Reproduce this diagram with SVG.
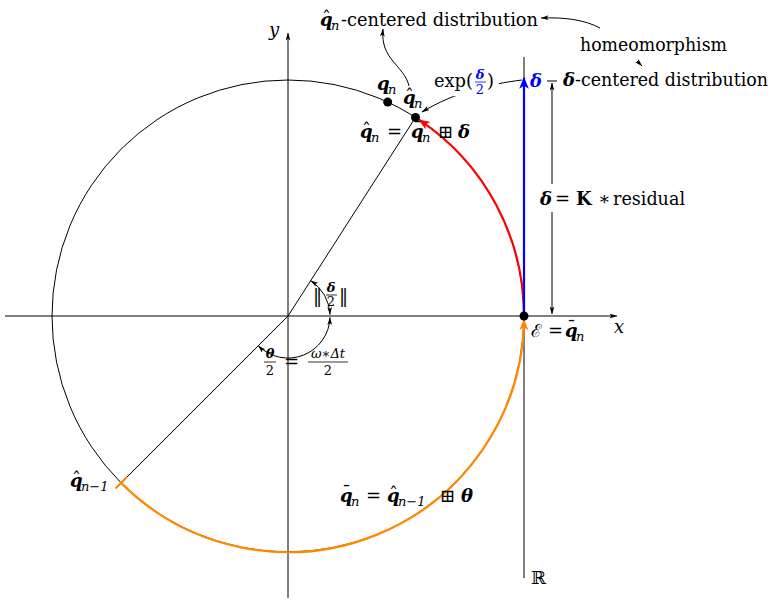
<svg xmlns="http://www.w3.org/2000/svg" width="781" height="605" viewBox="0 0 781 605">
<style>
.t{font-family:"DejaVu Serif","Liberation Serif",serif;font-size:18px;fill:#000}
.m{font-style:italic;font-weight:bold}
.i{font-style:italic}
.s{font-size:13px}
.ln{fill:none;stroke:#000;stroke-width:1}
.bl{fill:#00f}
</style>
<defs>
<marker id="ab" viewBox="0 0 10 6" refX="9.5" refY="3" markerWidth="8" markerHeight="5" orient="auto-start-reverse" markerUnits="userSpaceOnUse"><path d="M0,0 L10,3 L0,6 L2.5,3 z" fill="#000"/></marker>
<marker id="ar" viewBox="0 0 10 8" refX="9" refY="4" markerWidth="12" markerHeight="9" orient="auto" markerUnits="userSpaceOnUse"><path d="M0,0 L10,4 L0,8 L2.5,4 z" fill="#f00"/></marker>
<marker id="ao" viewBox="0 0 10 8" refX="9" refY="4" markerWidth="12" markerHeight="9" orient="auto" markerUnits="userSpaceOnUse"><path d="M0,0 L10,4 L0,8 L2.5,4 z" fill="#f80"/></marker>
<marker id="abl" viewBox="0 0 10 8" refX="9" refY="4" markerWidth="12" markerHeight="11" orient="auto" markerUnits="userSpaceOnUse"><path d="M0,0 L10,4 L0,8 L2.5,4 z" fill="#00f"/></marker>
</defs>
<rect width="781" height="605" fill="#fff"/>

<g id="axes">
<line class="ln" x1="5" y1="316" x2="617" y2="316" marker-end="url(#ab)"/>
<line class="ln" x1="288" y1="598" x2="288" y2="33" marker-end="url(#ab)"/>
<text class="t i" x="614" y="333">x</text>
<text class="t i" x="269" y="36">y</text>
</g>

<g id="circle">
<circle cx="288" cy="316" r="236" class="ln"/>
</g>

<g id="tangent">
<line class="ln" x1="524" y1="57" x2="524" y2="578"/>
<text class="t" x="531" y="584">ℝ</text>
</g>

<g id="connectors">
<line class="ln" x1="288" y1="316" x2="415.5" y2="117.4"/>
<line class="ln" x1="288" y1="316" x2="121.1" y2="482.9"/>
<path d="M121.1,482.9 A236,236 0 0 0 524,320" fill="none" stroke="#f80" stroke-width="2.2" marker-end="url(#ao)"/>
<line x1="115.5" y1="488.5" x2="126.7" y2="477.3" stroke="#f80" stroke-width="2.2"/>
<path d="M524,316 A236,236 0 0 0 419.6,120.1" fill="none" stroke="#f00" stroke-width="2.2" marker-end="url(#ar)"/>
<line x1="524" y1="316" x2="524" y2="78" stroke="#00f" stroke-width="2.2" marker-end="url(#abl)"/>
<path class="ln" d="M310.7,280.7 A42,42 0 0 1 330,314.5" marker-start="url(#ab)" marker-end="url(#ab)"/>
<path class="ln" d="M330,317.5 A42,42 0 0 1 258.3,345.7" marker-start="url(#ab)" marker-end="url(#ab)"/>
<line class="ln" x1="552" y1="83" x2="552" y2="314" marker-start="url(#ab)" marker-end="url(#ab)"/>
<line class="ln" x1="547" y1="81" x2="557" y2="81"/>
<path class="ln" d="M409,86 C404,65 380,60 383,29" marker-end="url(#ab)"/>
<path class="ln" d="M600,28 C585,20 565,17 541,18" marker-end="url(#ab)"/>
<line class="ln" x1="637" y1="61" x2="642" y2="66" marker-end="url(#ab)"/>
<path class="ln" d="M522,80 C490,84 455,92 422,112" marker-end="url(#ab)"/>
</g>

<g id="dots">
<circle cx="524" cy="316" r="4.5"/>
<circle cx="415.5" cy="117.4" r="4.5"/>
<circle cx="387.7" cy="102.1" r="4.5"/>
</g>

<g id="label-qhat-dist">
<text class="t m" x="320" y="26">q</text>
<text class="t" x="322" y="25">ˆ</text>
<text class="t i s" x="331" y="30">n</text>
<text class="t" x="341" y="26" textLength="197" lengthAdjust="spacingAndGlyphs">-centered distribution</text>
</g>

<g id="label-homeo">
<text class="t" x="580" y="51" textLength="147" lengthAdjust="spacingAndGlyphs">homeomorphism</text>
</g>

<g id="label-delta-dist">
<text class="t m" x="563" y="86">δ</text>
<text class="t" x="575" y="86" textLength="193" lengthAdjust="spacingAndGlyphs">-centered distribution</text>
</g>

<g id="label-exp">
<rect x="431" y="64" width="68" height="32" fill="#fff"/>
<text class="t" x="434" y="87" textLength="39" lengthAdjust="spacingAndGlyphs">exp(</text>
<text class="t m s bl" x="480" y="79" text-anchor="middle">δ</text>
<line x1="475" y1="82" x2="486" y2="82" stroke="#00f" stroke-width="0.8"/>
<text class="t s bl" x="480" y="94" text-anchor="middle">2</text>
<text class="t" x="487" y="87">)</text>
</g>

<g id="label-delta-blue">
<text class="t m bl" x="530" y="87">δ</text>
</g>

<g id="label-qn">
<text class="t m" x="377" y="90">q</text>
<text class="t i s" x="388" y="94">n</text>
</g>

<g id="label-qhatn">
<text class="t m" x="403" y="104">q</text>
<text class="t" x="405" y="103">ˆ</text>
<text class="t i s" x="414" y="108">n</text>
</g>

<g id="label-update">
<text class="t m" x="360" y="138">q</text>
<text class="t" x="362" y="137">ˆ</text>
<text class="t i s" x="371" y="142">n</text>
<text class="t" x="387" y="138">=</text>
<text class="t m" x="411" y="138">q</text>
<text class="t" x="413" y="135">¯</text>
<text class="t i s" x="422" y="142">n</text>
<text class="t" x="438" y="138">⊞</text>
<text class="t m" x="458" y="138">δ</text>
</g>

<g id="label-K">
<rect x="537" y="184" width="152" height="28" fill="#fff"/>
<text class="t m" x="540" y="205">δ</text>
<text class="t" x="555" y="205">=</text>
<text class="t" x="576" y="205" font-weight="bold">K</text>
<text class="t" x="598" y="205">∗</text>
<text class="t" x="613" y="205" textLength="72" lengthAdjust="spacingAndGlyphs">residual</text>
</g>

<g id="label-E">
<text class="t" x="531" y="337">ℰ</text>
<text class="t" x="548" y="337">=</text>
<text class="t m" x="565" y="337">q</text>
<text class="t" x="567" y="334">¯</text>
<text class="t i s" x="576" y="341">n</text>
</g>

<g id="label-halfdelta">
<text class="t" x="313" y="302" letter-spacing="-3">||</text>
<text class="t m s" x="331" y="292" text-anchor="middle">δ</text>
<line x1="326" y1="295" x2="337" y2="295" stroke="#000" stroke-width="0.8"/>
<text class="t s" x="331" y="306" text-anchor="middle">2</text>
<text class="t" x="339" y="302" letter-spacing="-3">||</text>
</g>

<g id="label-halftheta">
<text class="t m s" x="270" y="358" text-anchor="middle">θ</text>
<line x1="264" y1="362" x2="276" y2="362" stroke="#000" stroke-width="0.8"/>
<text class="t s" x="270" y="375" text-anchor="middle">2</text>
<text class="t" x="284" y="368">=</text>
<text class="t i s" x="328" y="358" text-anchor="middle">ω∗Δt</text>
<line x1="308" y1="362" x2="348" y2="362" stroke="#000" stroke-width="0.8"/>
<text class="t s" x="328" y="375" text-anchor="middle">2</text>
</g>

<g id="label-qhat-prev">
<text class="t m" x="70" y="487">q</text>
<text class="t" x="72" y="486">ˆ</text>
<text class="t i s" x="81" y="491">n−1</text>
</g>

<g id="label-predict">
<text class="t m" x="340" y="502">q</text>
<text class="t" x="342" y="499">¯</text>
<text class="t i s" x="351" y="506">n</text>
<text class="t" x="366" y="502">=</text>
<text class="t m" x="387" y="502">q</text>
<text class="t" x="389" y="501">ˆ</text>
<text class="t i s" x="398" y="506">n−1</text>
<text class="t" x="440" y="502">⊞</text>
<text class="t m" x="461" y="502">θ</text>
</g>
</svg>
